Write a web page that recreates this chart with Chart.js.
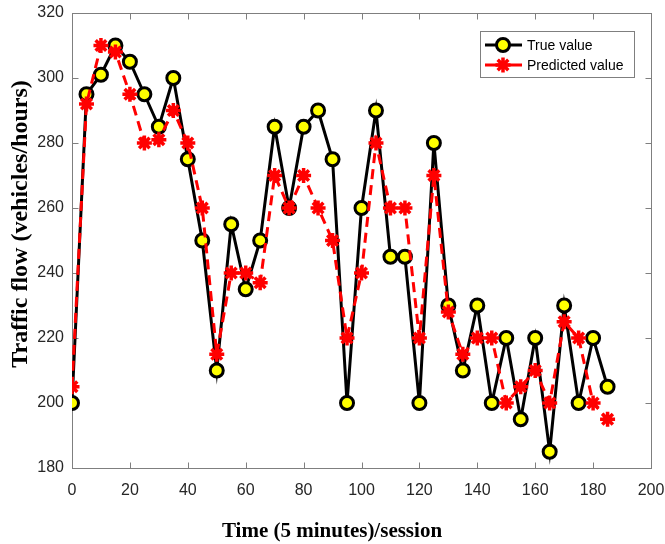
<!DOCTYPE html>
<html>
<head>
<meta charset="utf-8">
<script src="https://cdn.jsdelivr.net/npm/chart.js@4.4.0/dist/chart.umd.min.js"></script>
<style>
  html, body { margin: 0; padding: 0; background: #fff; }
  #wrap { width: 665px; height: 544px; }
</style>
</head>
<body>
<div id="wrap"><canvas id="lineChart" width="665" height="544"></canvas></div>
<script>
// Session index (x axis)
const sessions = [0, 5, 10, 15, 20, 25, 30, 35, 40, 45, 50, 55, 60, 65, 70, 75, 80, 85, 90,
  95, 100, 105, 110, 115, 120, 125, 130, 135, 140, 145, 150, 155, 160, 165, 170, 175, 180, 185];

// Measured traffic flow
const trueValues = [200, 295, 301, 310, 305, 295, 285, 300, 275, 250, 210, 255, 235, 250, 285, 260, 285, 290, 275,
  200, 260, 290, 245, 245, 200, 280, 230, 210, 230, 200, 220, 195, 220, 185, 230, 200, 220, 205];

// Model output
const predictedValues = [205, 292, 310, 308, 295, 280, 281, 290, 280, 260, 215, 240, 240, 237, 270, 260, 270, 260, 250,
  220, 240, 280, 260, 260, 220, 270, 228, 215, 220, 220, 200, 205, 210, 200, 225, 220, 200, 195];

const xTicks = [0, 20, 40, 60, 80, 100, 120, 140, 160, 180, 200];
const yTicks = [180, 200, 220, 240, 260, 280, 300, 320];

const legendLabels = ['True value', 'Predicted value'];
const xTitle = 'Time (5 minutes)/session';
const yTitle = 'Traffic flow (vehicles/hours)';

function toPoints(values) {
  return values.map((v, i) => ({ x: sessions[i], y: v }));
}

// Box round the plot and inward tick marks, like the MATLAB axes
const axesBox = {
  id: 'axesBox',
  beforeDatasetsDraw(chart) {
    const { ctx, chartArea: a, scales } = chart;
    ctx.save();
    ctx.strokeStyle = '#7f7f7f';
    ctx.lineWidth = 1;
    const l = Math.round(a.left) + 0.5, t = Math.round(a.top) + 0.5;
    const r = Math.round(a.right) + 0.5, b = Math.round(a.bottom) + 0.5;
    ctx.strokeRect(l, t, r - l, b - t);
    ctx.beginPath();
    const len = 6;
    xTicks.forEach((v) => {
      const px = Math.round(scales.x.getPixelForValue(v)) + 0.5;
      ctx.moveTo(px, b); ctx.lineTo(px, b - len);
      ctx.moveTo(px, t); ctx.lineTo(px, t + len);
    });
    yTicks.forEach((v) => {
      const py = Math.round(scales.y.getPixelForValue(v)) + 0.5;
      ctx.moveTo(l, py); ctx.lineTo(l + len, py);
      ctx.moveTo(r, py); ctx.lineTo(r - len, py);
    });
    ctx.stroke();
    ctx.restore();
  }
};

// Axis titles (the x title sits left of centre in the original)
const axisTitles = {
  id: 'axisTitles',
  afterDraw(chart) {
    const { ctx } = chart;
    ctx.save();
    ctx.fillStyle = '#000';
    ctx.textAlign = 'center';
    ctx.textBaseline = 'middle';
    ctx.font = 'bold 21px "Liberation Serif", "Times New Roman", serif';
    ctx.fillText(xTitle, 332, 532);
    ctx.translate(21, 224);
    ctx.rotate(-Math.PI / 2);
    ctx.font = 'bold 24px "Liberation Serif", "Times New Roman", serif';
    ctx.fillText(yTitle, 0, 0);
    ctx.restore();
  }
};

// Legend with line + marker samples
const boxLegend = {
  id: 'boxLegend',
  afterDraw(chart) {
    const { ctx } = chart;
    const x0 = 480, y0 = 31, w = 154, h = 46;
    ctx.save();
    ctx.fillStyle = '#fff';
    ctx.fillRect(x0, y0, w, h);
    ctx.strokeStyle = '#7f7f7f';
    ctx.lineWidth = 1;
    ctx.strokeRect(x0 + 0.5, y0 + 0.5, w, h);

    chart.data.datasets.forEach((ds, i) => {
      const cy = y0 + 14 + i * 20;
      ctx.beginPath();
      ctx.strokeStyle = ds.borderColor;
      ctx.lineWidth = 3;
      ctx.moveTo(x0 + 5, cy);
      ctx.lineTo(x0 + 42, cy);
      ctx.stroke();
      ctx.fillStyle = ds.pointBackgroundColor;
      ctx.strokeStyle = ds.pointBorderColor;
      ctx.lineWidth = ds.pointBorderWidth;
      Chart.helpers.drawPoint(ctx, {
        pointStyle: ds.pointStyle,
        radius: ds.pointRadius,
        rotation: 0,
        borderWidth: ds.pointBorderWidth
      }, x0 + 23, cy);
      ctx.fillStyle = '#000';
      ctx.font = '14px "Liberation Sans", Arial, sans-serif';
      ctx.textBaseline = 'middle';
      ctx.textAlign = 'left';
      ctx.fillText(legendLabels[i], x0 + 47, cy + 1);
    });
    ctx.restore();
  }
};

const ctx = document.getElementById('lineChart').getContext('2d');
const lineChart = new Chart(ctx, {
  type: 'line',
  data: {
    datasets: [
      {
        label: legendLabels[0],
        data: toPoints(trueValues),
        borderColor: '#000000',
        borderWidth: 3,
        pointStyle: 'circle',
        pointRadius: 6.5,
        pointBackgroundColor: '#ffff00',
        pointBorderColor: '#000000',
        pointBorderWidth: 3,
        tension: 0,
        order: 1,
      },
      {
        label: legendLabels[1],
        data: toPoints(predictedValues),
        borderColor: '#ff0000',
        borderWidth: 3,
        borderDash: [10, 6],
        pointStyle: 'star',
        pointRadius: 7.5,
        pointBackgroundColor: '#ff0000',
        pointBorderColor: '#ff0000',
        pointBorderWidth: 3.5,
        tension: 0,
        order: 0,
      },
    ],
  },
  options: {
    responsive: false,
    animation: false,
    layout: { padding: 0 },
    plugins: {
      legend: { display: false },
      tooltip: { enabled: false },
    },
    scales: {
      x: {
        type: 'linear',
        min: 0,
        max: 200,
        afterFit(scale) {
          scale.height = 76;
          scale.paddingLeft = 0;
          scale.paddingRight = 14;
        },
        afterBuildTicks(scale) { scale.ticks = xTicks.map((v) => ({ value: v })); },
        grid: { display: false, drawTicks: false },
        border: { display: false },
        ticks: {
          padding: 13,
          color: '#262626',
          font: { family: '"Liberation Sans", Arial, sans-serif', size: 16 },
        },
      },
      y: {
        type: 'linear',
        min: 180,
        max: 320,
        afterFit(scale) {
          scale.width = 72;
          scale.paddingTop = 13;
          scale.paddingBottom = 0;
        },
        afterBuildTicks(scale) { scale.ticks = yTicks.map((v) => ({ value: v })); },
        grid: { display: false, drawTicks: false },
        border: { display: false },
        ticks: {
          padding: 8,
          color: '#262626',
          font: { family: '"Liberation Sans", Arial, sans-serif', size: 16 },
        },
      },
    },
  },
  plugins: [axesBox, axisTitles, boxLegend],
});
</script>
</body>
</html>
